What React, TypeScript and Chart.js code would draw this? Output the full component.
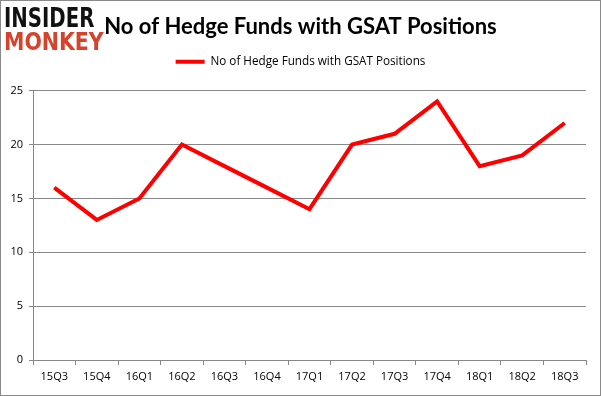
import React, { useEffect, useRef } from "react";
import { Chart, registerables } from "chart.js";

Chart.register(...registerables);

const categories = ["15Q3", "15Q4", "16Q1", "16Q2", "16Q3", "16Q4", "17Q1", "17Q2", "17Q3", "17Q4", "18Q1", "18Q2", "18Q3"];
const fundCounts = [16, 13, 15, 20, 18, 16, 14, 20, 21, 24, 18, 19, 22];
const seriesName = "No of Hedge Funds with GSAT Positions";
const chartTitle = "No of Hedge Funds with GSAT Positions";
const yTicks = [0, 5, 10, 15, 20, 25];

const SHIFT_UP = 13;

// Center title and legend on the whole canvas and lift them, leaving extra room above the plot.
const headerPlacement = {
  id: "headerPlacement",
  afterLayout(chart: any) {
    const w = chart.width;
    for (const box of [chart.titleBlock, chart.legend]) {
      if (!box) continue;
      box.left = 0;
      box.right = w;
      box.width = w;
      box.top -= SHIFT_UP;
      box.bottom -= SHIFT_UP;
    }
  },
};

export default function App() {
  const ref = useRef<HTMLCanvasElement | null>(null);

  useEffect(() => {
    document.body.style.margin = "0";
    const canvas = ref.current;
    if (!canvas) return;
    const chart = new Chart(canvas, {
      type: "line",
      plugins: [headerPlacement],
      data: {
        labels: categories,
        datasets: [
          {
            label: seriesName,
            data: fundCounts,
            borderColor: "#ff0000",
            backgroundColor: "#ff0000",
            borderWidth: 4,
            pointRadius: 0,
            pointHoverRadius: 0,
            tension: 0,
            fill: false,
          },
        ],
      },
      options: {
        responsive: false,
        animation: false,
        events: [],
        layout: { padding: { left: 4, right: 15, top: SHIFT_UP, bottom: 0 } },
        plugins: {
          tooltip: { enabled: false },
          title: {
            display: true,
            text: chartTitle,
            color: "#000000",
            font: { family: "Lato, sans-serif", weight: "bold", size: 22 },
            padding: { top: 14, bottom: 5.6 },
          },
          legend: {
            display: true,
            position: "top",
            labels: {
              color: "#000000",
              font: { family: '"Open Sans", sans-serif', size: 11.7 },
              boxWidth: 29,
              boxHeight: 4,
              padding: 10,
              generateLabels: () => [
                {
                  text: seriesName,
                  fillStyle: "#ff0000",
                  strokeStyle: "#ff0000",
                  lineWidth: 0,
                  hidden: false,
                  datasetIndex: 0,
                },
              ],
            },
          },
        },
        scales: {
          x: {
            offset: true,
            afterFit: (s: any) => {
              s.height = 36;
            },
            grid: {
              offset: true,
              drawOnChartArea: false,
              drawTicks: true,
              tickLength: 5,
              color: "#888888",
            },
            border: { display: true, color: "#888888", width: 1 },
            ticks: {
              color: "#000000",
              font: { family: '"Open Sans", sans-serif', size: 11 },
              padding: 5,
              maxRotation: 0,
              autoSkip: false,
            },
          },
          y: {
            min: yTicks[0],
            max: yTicks[yTicks.length - 1],
            afterFit: (s: any) => {
              s.width = 29;
            },
            afterBuildTicks: (s: any) => {
              s.ticks = yTicks.map((v) => ({ value: v }));
            },
            grid: {
              color: "#888888",
              lineWidth: 1,
              drawTicks: true,
              tickLength: 4,
            },
            border: { display: true, color: "#888888", width: 1 },
            ticks: {
              color: "#000000",
              font: { family: '"Open Sans", sans-serif', size: 11 },
              padding: 6,
            },
          },
        },
      },
    });
    return () => chart.destroy();
  }, []);

  return (
    <div style={{ position: "relative", width: 601, height: 396, background: "#ffffff", overflow: "hidden" }}>
      <canvas ref={ref} width={601} height={396} style={{ position: "absolute", left: 0, top: 0 }} />
      <div
        style={{
          position: "absolute",
          left: 4,
          top: 4,
          fontFamily: '"DejaVu Sans", sans-serif',
          fontWeight: 900,
          fontSize: 27,
          lineHeight: "27px",
          color: "#111111",
          transform: "scaleX(0.73)",
          transformOrigin: "left top",
          whiteSpace: "nowrap",
        }}
      >
        INSIDER
      </div>
      <div
        style={{
          position: "absolute",
          left: 4,
          top: 29,
          fontFamily: '"DejaVu Sans", sans-serif',
          fontWeight: 900,
          fontSize: 25,
          lineHeight: "25px",
          color: "#d5432c",
          transform: "scaleX(0.82)",
          transformOrigin: "left top",
          whiteSpace: "nowrap",
        }}
      >
        MONKEY
      </div>
      <div
        style={{
          position: "absolute",
          left: 0,
          top: 0,
          width: 601,
          height: 396,
          boxSizing: "border-box",
          border: "1px solid #8a8a8a",
          pointerEvents: "none",
        }}
      />
    </div>
  );
}
